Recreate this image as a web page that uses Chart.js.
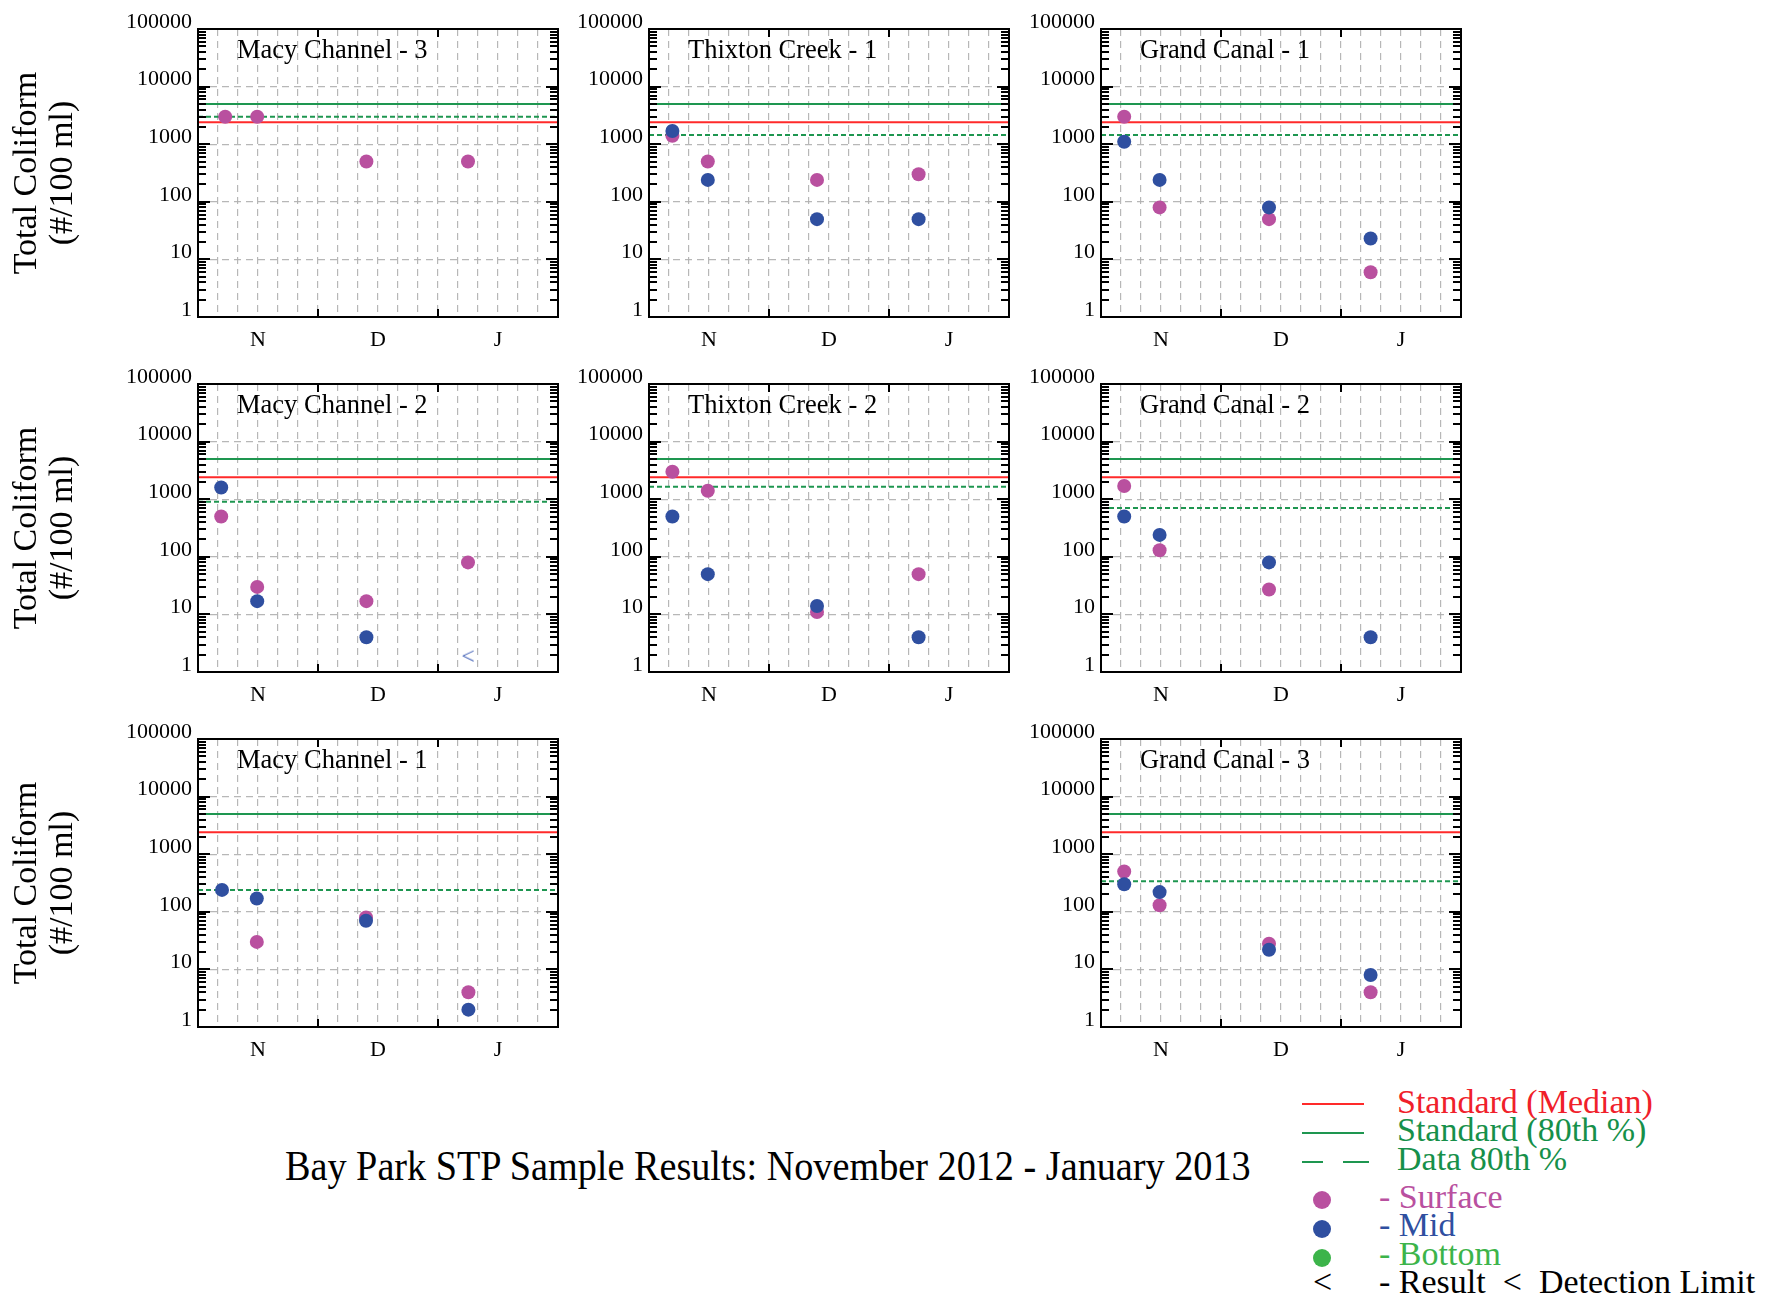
<!DOCTYPE html>
<html>
<head>
<meta charset="utf-8">
<script src="https://cdn.jsdelivr.net/npm/chart.js@4.4.1/dist/chart.umd.min.js"></script>
<style>
  body { margin: 0; background: #fff; width: 1766px; height: 1301px; position: relative; overflow: hidden;
         font-family: 'Liberation Serif', 'Times New Roman', serif; }
  canvas { position: absolute; }
  .txt { position: absolute; white-space: pre; font-size: 34px; line-height: 34px; }
  .seg { position: absolute; height: 0; }
  .dot { position: absolute; width: 18px; height: 18px; border-radius: 50%; }
</style>
</head>
<body>

<div class="txt" style="left:285px; top:1145px; font-size:42px; line-height:42px; transform:scaleX(0.91); transform-origin:0 0;">Bay Park STP Sample Results: November 2012 - January 2013</div>

<!-- legend -->
<div class="seg" style="left:1302px; top:1103px; width:62px; border-top:2px solid #ff2a2a;"></div>
<div class="seg" style="left:1302px; top:1132px; width:62px; border-top:2px solid #1e9650;"></div>
<div class="seg" style="left:1302px; top:1161px; width:21px; border-top:2px solid #1e9650;"></div>
<div class="seg" style="left:1343px; top:1161px; width:26px; border-top:2px solid #1e9650;"></div>
<div class="txt" style="left:1397px; top:1085px; color:#f0202a;">Standard (Median)</div>
<div class="txt" style="left:1397px; top:1113px; color:#16904a;">Standard (80th %)</div>
<div class="txt" style="left:1397px; top:1142px; color:#16904a;">Data 80th %</div>
<div class="dot" style="left:1313px; top:1191px; background:#b9509f;"></div>
<div class="dot" style="left:1313px; top:1220px; background:#2f4fa0;"></div>
<div class="dot" style="left:1313px; top:1249px; background:#3cb44a;"></div>
<div class="txt" style="left:1313px; top:1265px;">&lt;</div>
<div class="txt" style="left:1379px; top:1180px; color:#b9509f;">- Surface</div>
<div class="txt" style="left:1379px; top:1208px; color:#2f4fa0;">- Mid</div>
<div class="txt" style="left:1379px; top:1237px; color:#3cb44a;">- Bottom</div>
<div class="txt" style="left:1379px; top:1265px;">- Result  &lt;  Detection Limit</div>

<script>
// ---- data ----
// panel slots of the 3x3 grid, row by row (slot 7 is empty)
const stationNames = ['Macy Channel - 3', 'Thixton Creek - 1', 'Grand Canal - 1',
                      'Macy Channel - 2', 'Thixton Creek - 2', 'Grand Canal - 2',
                      'Macy Channel - 1', null, 'Grand Canal - 3'];

// sampling day (days from start of November) for each station
const sampleDays = [
  [6.8, 14.8, 42.1, 67.5], [5.85, 14.7, 42, 67.4], [5.8, 14.65, 42, 67.4],
  [5.8, 14.8, 42.1, 67.5], [5.85, 14.7, 42, 67.4], [5.8, 14.65, 42, 67.4],
  [6, 14.7, 42, 67.6], null, [5.8, 14.65, 42, 67.4]
];

// total coliform (#/100 ml)
const surfaceValues = [
  [3000, 3000, 500, 500], [1400, 500, 240, 300], [3000, 80, 50, 6],
  [500, 30, 17, 80], [3000, 1400, 11, 50], [1700, 130, 27, null],
  [null, 30, 80, 4], null, [500, 130, 28, 4]
];
const midValues = [
  [null, null, null, null], [1700, 240, 50, 50], [1100, 240, 80, 23],
  [1600, 17, 4, null], [500, 50, 14, 4], [500, 240, 80, 4],
  [240, 170, 70, 2], null, [300, 220, 22, 8]
];
// mid results below detection limit (drawn as "<")
const midBelowLimit = [
  [null, null, null, null], [null, null, null, null], [null, null, null, null],
  [null, null, null, 2], [null, null, null, null], [null, null, null, null],
  [null, null, null, null], null, [null, null, null, null]
];
const data80th = [3000, 1450, 1450, 900, 1650, 700, 240, null, 340];

const standardMedian = 2400;
const standard80th = 5000;

const monthLabels = ['N', 'D', 'J'];
const monthCenters = [15, 45, 75];
const monthBounds = [30, 60];
const xMin = 0, xMax = 90;
const yTickValues = [1, 10, 100, 1000, 10000, 100000];
const yTickLabels = ['1', '10', '100', '1000', '10000', '100000'];

// ---- layout ----
const panelLefts = [198, 649, 1101];
const rowTops = [29, 384, 739];
const plotW = 360, plotH = 288;
const padTop = 24, axisH = 45, padRight = 12;
const FONT = "'Liberation Serif', 'Times New Roman', serif";

const surfaceColor = '#b9509f';
const midColor = '#2f4fa0';
const redColor = '#ff2a2a';
const greenColor = '#1e9650';
const gridColor = 'rgba(175,175,175,0.9)';

// dashed grid every 5 days
const xGridDays = [];
for (let d = xMin; d <= xMax; d += 5) xGridDays.push(d);

// minor log ticks 2..9 per decade
const yMinorTicks = [];
for (let i = 0; i < yTickValues.length - 1; i++) {
  for (let k = 2; k <= 9; k++) yMinorTicks.push(yTickValues[i] * k);
}

// "<" glyph used as the point style for below-limit results
function lessThanGlyph(color) {
  const c = document.createElement('canvas');
  c.width = 24; c.height = 24;
  const g = c.getContext('2d');
  g.fillStyle = color;
  g.font = '24px ' + FONT;
  g.textAlign = 'center';
  g.textBaseline = 'middle';
  g.fillText('<', 12, 15);
  return c;
}
const lessThanStyle = lessThanGlyph('#4664b8');

// frame, inward ticks and the station name
const panelFrame = {
  id: 'panelFrame',
  afterDraw(chart, args, opts) {
    const ctx = chart.ctx;
    const a = chart.chartArea;
    const x = chart.scales.x, y = chart.scales.y;
    ctx.save();
    ctx.strokeStyle = '#000';
    ctx.lineWidth = 2;
    ctx.beginPath();
    yMinorTicks.forEach(v => {
      const py = Math.round(y.getPixelForValue(v));
      ctx.moveTo(a.left, py); ctx.lineTo(a.left + 8, py);
      ctx.moveTo(a.right, py); ctx.lineTo(a.right - 8, py);
    });
    yTickValues.forEach(v => {
      const py = Math.round(y.getPixelForValue(v));
      ctx.moveTo(a.left, py); ctx.lineTo(a.left + 12, py);
      ctx.moveTo(a.right, py); ctx.lineTo(a.right - 12, py);
    });
    monthBounds.forEach(v => {
      const px = Math.round(x.getPixelForValue(v));
      ctx.moveTo(px, a.top); ctx.lineTo(px, a.top + 8);
      ctx.moveTo(px, a.bottom); ctx.lineTo(px, a.bottom - 8);
    });
    ctx.stroke();
    ctx.strokeRect(a.left, a.top, a.right - a.left, a.bottom - a.top);
    ctx.fillStyle = '#000';
    ctx.font = '26.5px ' + FONT;
    ctx.textBaseline = 'alphabetic';
    ctx.fillText(opts.text, a.left + 39, a.top + 29);
    ctx.restore();
  }
};

function toPoints(days, values) {
  return days.map((d, i) => ({ x: d, y: values[i] }));
}

function hLine(value) {
  return [{ x: xMin, y: value }, { x: xMax, y: value }];
}

stationNames.forEach((name, slot) => {
  if (!name) return;
  const col = slot % 3, row = Math.floor(slot / 3);
  const isLeft = col === 0;
  const axisW = isLeft ? panelLefts[0] : 90;

  const canvas = document.createElement('canvas');
  canvas.width = axisW + plotW + padRight;
  canvas.height = padTop + plotH + axisH;
  canvas.style.left = (panelLefts[col] - axisW) + 'px';
  canvas.style.top = (rowTops[row] - padTop) + 'px';
  document.body.appendChild(canvas);

  const days = sampleDays[slot];
  const datasets = [
    { label: 'Mid', data: toPoints(days, midValues[slot]), backgroundColor: midColor,
      pointRadius: 7, borderWidth: 0, order: 0 },
    { label: 'Mid <', data: toPoints(days, midBelowLimit[slot]), pointStyle: lessThanStyle,
      pointRadius: 10, order: 0 },
    { label: 'Surface', data: toPoints(days, surfaceValues[slot]), backgroundColor: surfaceColor,
      pointRadius: 7, borderWidth: 0, order: 1 },
    { label: 'Standard (Median)', data: hLine(standardMedian), showLine: true, borderColor: redColor,
      borderWidth: 2, pointRadius: 0, order: 2 },
    { label: 'Standard (80th %)', data: hLine(standard80th), showLine: true, borderColor: greenColor,
      borderWidth: 2, pointRadius: 0, order: 2 },
    { label: 'Data 80th %', data: hLine(data80th[slot]), showLine: true, borderColor: greenColor,
      borderDash: [5, 3], borderWidth: 2, pointRadius: 0, order: 2 }
  ];

  new Chart(canvas, {
    type: 'scatter',
    data: { datasets: datasets },
    options: {
      responsive: false,
      animation: false,
      events: [],
      layout: { padding: { top: padTop, right: padRight, left: 0, bottom: 0 } },
      plugins: {
        legend: { display: false },
        tooltip: { enabled: false },
        panelFrame: { text: name }
      },
      scales: {
        x: {
          type: 'linear', min: xMin, max: xMax,
          afterFit: s => { s.height = axisH; },
          afterBuildTicks: s => { s.ticks = xGridDays.map(v => ({ value: v })); },
          ticks: {
            autoSkip: false, maxRotation: 0, padding: 10, color: '#000',
            font: { family: FONT, size: 22 },
            callback: v => { const i = monthCenters.indexOf(v); return i >= 0 ? monthLabels[i] : ''; }
          },
          grid: { color: gridColor, lineWidth: 1.2, drawTicks: false },
          border: { display: false, dash: [7, 5] }
        },
        y: {
          type: 'logarithmic', min: 1, max: 100000,
          afterFit: s => { s.width = axisW; },
          afterBuildTicks: s => { s.ticks = yTickValues.map(v => ({ value: v })); },
          ticks: {
            padding: 6, labelOffset: -7, color: '#000',
            font: { family: FONT, size: 22 },
            callback: v => { const i = yTickValues.indexOf(v); return i >= 0 ? yTickLabels[i] : ''; }
          },
          grid: { color: gridColor, lineWidth: 1.2, drawTicks: false },
          border: { display: false, dash: [7, 5] },
          title: {
            display: isLeft,
            text: ['Total Coliform', '(#/100 ml)'],
            color: '#000',
            font: { family: FONT, size: 34, lineHeight: 1.06 },
            padding: { top: 9, bottom: 0 }
          }
        }
      }
    },
    plugins: [panelFrame]
  });
});
</script>
</body>
</html>
